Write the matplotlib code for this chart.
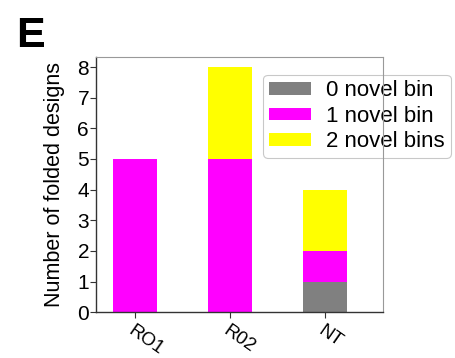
import matplotlib
matplotlib.use("Agg")
import matplotlib.pyplot as plt
import numpy as np

categories = ["RO1", "R02", "NT"]
zero_novel = [0, 0, 1]
one_novel = [5, 5, 1]
two_novel = [0, 3, 2]
series_labels = ["0 novel bin", "1 novel bin", "2 novel bins"]
colors = ["#808080", "#ff00ff", "#ffff00"]

plt.rcParams["font.family"] = ["Liberation Sans", "DejaVu Sans"]

fig = plt.figure(figsize=(4.55, 3.58), dpi=100)
ax = fig.add_axes([0.211, 0.128, 0.631, 0.713])

x = np.arange(len(categories))
bottom = np.zeros(len(categories))
handles = []
for vals, lab, col in zip([zero_novel, one_novel, two_novel], series_labels, colors):
    h = ax.bar(x, vals, width=0.47, bottom=bottom, color=col, label=lab, zorder=1)
    bottom += np.array(vals)
    handles.append(h)

ax.set_xlim(-0.41, 2.61)
ax.set_ylim(0, 8.33)
ax.set_yticks(range(0, 9))
ax.set_xticks(x)
ax.set_xticklabels(categories, rotation=-35, ha="left", va="top",
                   rotation_mode="anchor")
ax.tick_params(axis="y", labelsize=15, length=4, width=0.8, colors="#333333", pad=1)
ax.tick_params(axis="x", labelsize=13.5, length=4, width=0.8, colors="#333333", pad=3)
for lbl in ax.get_xticklabels() + ax.get_yticklabels():
    lbl.set_color("black")
ax.set_ylabel("Number of folded designs", fontsize=15.5, labelpad=9)

for side in ["left", "bottom"]:
    ax.spines[side].set_color("#333333")
    ax.spines[side].set_linewidth(1.0)
for side in ["top", "right"]:
    ax.spines[side].set_color("#999999")
    ax.spines[side].set_linewidth(0.8)

leg = ax.legend(handles=handles, labels=series_labels, loc="upper left",
                bbox_to_anchor=(0.582, 0.93), fontsize=16, frameon=True,
                handlelength=1.9, handleheight=0.5, handletextpad=0.7,
                labelspacing=0.2, borderpad=0.25, borderaxespad=0)
leg.get_frame().set_edgecolor("#bbbbbb")
leg.get_frame().set_linewidth(0.8)
leg.get_frame().set_boxstyle("round,pad=0.0,rounding_size=0.2")
leg.set_zorder(2)

fig.text(0.035, 0.955, "E", fontsize=31, fontweight="bold", va="top")

fig.savefig("out.png", dpi=100)
